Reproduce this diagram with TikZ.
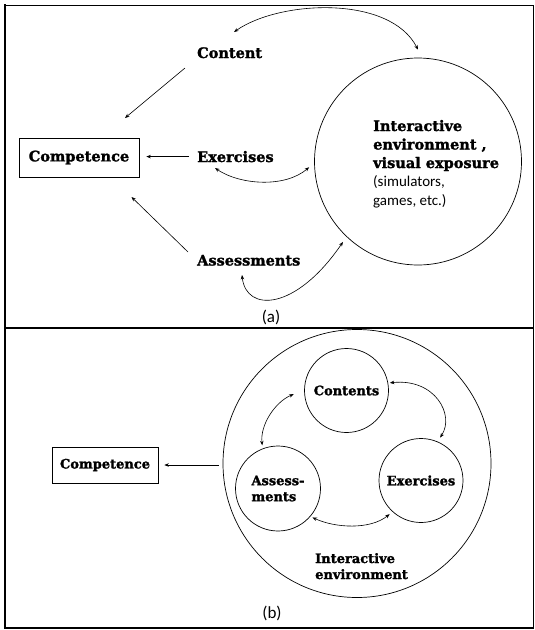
\documentclass[tikz,border=0pt]{standalone}
\usepackage{fontspec}
\setmainfont{Carlito}
\newfontfamily\disp{DejaVu Serif}[BoldFeatures={FakeBold=1.6}]
\usetikzlibrary{arrows.meta,calc}
\newcommand\dsp[1]{{\disp\bfseries\fontsize{14.5}{18.5}\selectfont #1}}
\begin{document}
\begin{tikzpicture}[x=1pt,y=-1pt,
  lbla/.style={font=\disp\bfseries\fontsize{14.5}{17}\selectfont, inner sep=0pt},
  lblb/.style={font=\disp\bfseries\fontsize{13}{16}\selectfont, inner sep=0pt},
  boxa/.style={lbla, draw, line width=0.7pt, minimum width=120pt, minimum height=39pt},
  boxb/.style={lblb, draw, line width=0.7pt, minimum width=106pt, minimum height=36pt},
  circ/.style={draw, circle, line width=0.7pt, inner sep=0pt},
  arr/.style={line width=0.6pt, -{Stealth[length=4.5pt,width=3.5pt]}},
  dbl/.style={line width=0.6pt, {Stealth[length=4.5pt,width=3.5pt]}-{Stealth[length=4.5pt,width=3.5pt]}},
  captxt/.style={font=\fontsize{17}{19}\selectfont, inner sep=0pt}]
\useasboundingbox (0,0) rectangle (535,630);
\fill[white] (0,0) rectangle (535,630);
% frame
\draw[line width=1pt] (5,5) -- (533,5) -- (533,628);
\draw[line width=2pt] (5,4) -- (5,628) -- (534,628);
\draw[line width=1.5pt] (5,328) -- (533,328);

% ---------- panel (a)
\node[boxa] (compa) at (79,157.5) {Competence};
\node[lbla, anchor=base west] (conta) at (197,58) {Content};
\node[lbla, anchor=base west] (exa) at (197,162) {Exercises};
\node[lbla, anchor=base west] (assa) at (197,265.5) {Assessments};
\node[circ, minimum size=207pt] (enva) at (418,161.5) {};
\node[anchor=base west, align=left, inner sep=0pt, font=\fontsize{15}{18.5}\selectfont] (envatxt) at (373,205)
  {\dsp{Interactive}\\\dsp{environment ,}\\\dsp{visual exposure}\\(simulators,\\games, etc.)};

\coordinate (ca1) at (185,68);
\coordinate (ca2) at (125,118);
\draw[arr] (ca1) -- (ca2);
\draw[arr, shorten <=8pt, shorten >=7pt] (exa.west) -- (exa.west -| compa.east);
\coordinate (aa1) at (188,252);
\coordinate (aa2) at (131.5,197);
\draw[arr] (aa1) -- (aa2);

\coordinate (t1) at (234,32);
\draw[dbl] (t1) .. controls (280,0) and (390,-5) .. ($(enva.north)+(0,-8)$);
\coordinate (e1) at (215,168);
\draw[dbl] (e1) .. controls (240,185) and (285,188) .. ($(enva.center)+(183:109pt)$);
\coordinate (s1) at (242,275);
\draw[dbl] (s1) .. controls (246,312) and (295,312) .. ($(enva.center)+(227:110pt)$);
\node[captxt] (capa) at (271,317) {(a)};

% ---------- panel (b)
\node[boxb] (compb) at (105,465) {Competence};
\node[circ, minimum size=268pt] (envb) at (357,463.5) {};
\node[circ, lblb, minimum size=84pt] (cb) at (346.5,390.5) {Contents};
\node[circ, lblb, minimum size=85pt, align=left] (ab) at (278,488.5) {Assess-\\ments};
\node[circ, lblb, minimum size=84pt] (eb) at (421,480.5) {Exercises};
\node[lblb, anchor=base west, align=left] (envbtxt) at (315,579) {Interactive\\environment};
\draw[arr, shorten <=4pt, shorten >=6pt] (compb.east -| envb.west) -- (compb.east);
\draw[dbl] ($(cb.center)+(10:44pt)$) .. controls (435,378) and (455,415) .. ($(eb.center)+(66:47pt)$);
\draw[dbl] ($(cb.center)+(184:53pt)$) .. controls (275,402) and (260,425) .. ($(ab.center)+(110:46pt)$);
\draw[dbl] ($(ab.center)+(-40:45pt)$) .. controls (335,528) and (370,530) .. ($(eb.center)+(227:46pt)$);
\node[captxt] (capb) at (272,613) {(b)};
\end{tikzpicture}
\end{document}
